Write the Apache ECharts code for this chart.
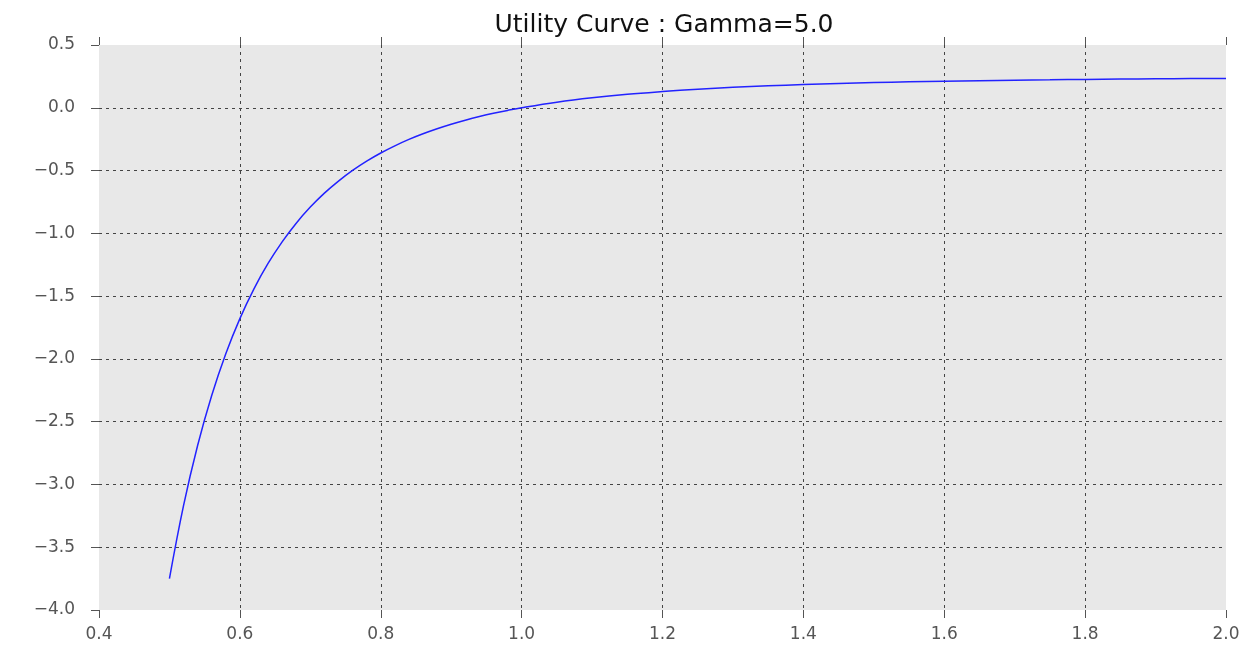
<!DOCTYPE html>
<html>
<head>
<meta charset="utf-8">
<script src="https://cdn.jsdelivr.net/npm/echarts@6/dist/echarts.min.js"></script>
<style>
  html, body { margin: 0; padding: 0; background: #fff; }
  #chart { width: 1248px; height: 659px; }
</style>
</head>
<body>
<div id="chart"></div>
<script>
  // wealth levels and utility
  const xValues = [0.50, 0.52, 0.54, 0.56, 0.58, 0.60, 0.62, 0.64, 0.66, 0.68, 0.70,
    0.72, 0.74, 0.76, 0.78, 0.80, 0.82, 0.84, 0.86, 0.88, 0.90, 0.92, 0.94, 0.96, 0.98,
    1.00, 1.05, 1.10, 1.15, 1.20, 1.25, 1.30, 1.35, 1.40, 1.45, 1.50, 1.55, 1.60, 1.65,
    1.70, 1.75, 1.80, 1.85, 1.90, 1.95, 2.00]
  const utility = [-3.750, -3.169, -2.690, -2.292, -1.959, -1.679, -1.442, -1.240, -1.068, -0.919, -0.791,
    -0.680, -0.584, -0.499, -0.425, -0.360, -0.303, -0.252, -0.207, -0.167, -0.131, -0.099, -0.070, -0.044, -0.021,
    0.000, 0.044, 0.079, 0.107, 0.129, 0.148, 0.163, 0.175, 0.185, 0.193, 0.201, 0.207, 0.212, 0.216,
    0.220, 0.223, 0.226, 0.229, 0.231, 0.233, 0.234]

  const titleText = 'Utility Curve : Gamma=5.0'
  const fontFamily = 'DejaVu Sans'

  const chart = echarts.init(document.getElementById('chart'))
  const points = xValues.map(function(x, i) { return [x, utility[i]] })

  const gridLine = {
    show: true,
    showMinLine: false,
    showMaxLine: false,
    lineStyle: { color: '#444', width: 1, type: [3, 4] }
  }

  chart.setOption({
    animation: false,
    title: {
      text: titleText,
      left: 659,
      top: 8,
      textAlign: 'center',
      textStyle: { fontFamily: fontFamily, fontSize: 25, fontWeight: 'normal', color: '#111' }
    },
    grid: {
      left: 99,
      right: 22,
      top: 45,
      bottom: 49,
      show: true,
      backgroundColor: '#e8e8e8',
      borderWidth: 0
    },
    xAxis: [{
      type: 'value',
      min: 0.4,
      max: 2.0,
      interval: 0.2,
      axisLine: { show: false, onZero: false },
      axisTick: { show: true, length: 8, lineStyle: { color: '#555' } },
      axisLabel: {
        margin: 16,
        fontFamily: fontFamily,
        fontSize: 17,
        color: '#555',
        formatter: function(v) { return v.toFixed(1) }
      },
      splitLine: gridLine
    }, {
      type: 'value',
      position: 'top',
      min: 0.4,
      max: 2.0,
      interval: 0.2,
      axisLine: { show: false, onZero: false },
      axisTick: { show: true, length: 8, lineStyle: { color: '#555' } },
      axisLabel: { show: false },
      splitLine: { show: false }
    }],
    yAxis: {
      type: 'value',
      min: -4.0,
      max: 0.5,
      interval: 0.5,
      axisLine: { show: false, onZero: false },
      axisTick: { show: true, length: 8, lineStyle: { color: '#555' } },
      axisLabel: {
        margin: 24,
        fontFamily: fontFamily,
        fontSize: 17,
        color: '#555',
        formatter: function(v) { return v.toFixed(1).replace('-', '\u2212') }
      },
      splitLine: gridLine
    },
    series: [{
      type: 'line',
      data: points,
      smooth: 0.4,
      symbol: 'none',
      lineStyle: { color: '#2222ff', width: 1.5 }
    }]
  })
</script>
</body>
</html>
